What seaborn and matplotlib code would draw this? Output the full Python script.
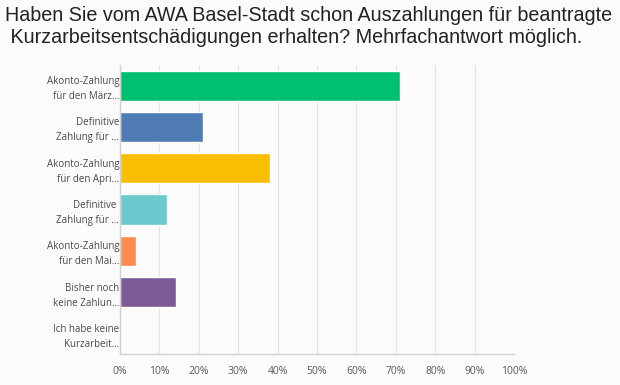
import matplotlib
matplotlib.use("Agg")
import matplotlib.pyplot as plt
import seaborn as sns
import pandas as pd

categories = [
    "Akonto-Zahlung\nfür den März…",
    "Definitive\nZahlung für …",
    "Akonto-Zahlung\nfür den Apri…",
    "Definitive \nZahlung für …",
    "Akonto-Zahlung\nfür den Mai…",
    "Bisher noch\nkeine Zahlun…",
    "Ich habe keine\nKurzarbeit…",
]
values = [71.0, 21.0, 38.0, 12.0, 4.0, 14.3, 0.0]
colors = ["#00bf6f", "#507cb6", "#f9be00", "#6bc8cd", "#ff8b4f", "#7d5a94", "#c4c4c4"]
xticks = [0, 10, 20, 30, 40, 50, 60, 70, 80, 90, 100]
xticklabels = [f"{t}%" for t in xticks]
title = "Haben Sie vom AWA Basel-Stadt schon Auszahlungen für beantragte\n Kurzarbeitsentschädigungen erhalten? Mehrfachantwort möglich."

sns.set_theme(style="white")
plt.rcParams["font.family"] = ["Open Sans", "DejaVu Sans"]

df = pd.DataFrame({"cat": categories, "val": values})

bg = "#fbfbfb"
fig = plt.figure(figsize=(6.2, 3.85), dpi=100, facecolor=bg)
ax = fig.add_axes([120/620, 1-354/385, 394/620, 289/385])
ax.set_facecolor(bg)

sns.barplot(data=df, x="val", y="cat", hue="cat", palette=colors, legend=False,
            orient="h", width=0.73, ax=ax, saturation=1)

ax.set_xlim(0, 100)
ax.set_xticks(xticks)
ax.set_xticklabels(xticklabels, fontsize=7.5, color="#5a5a5a")
ax.set_yticks(range(len(categories)))
ax.set_yticklabels(categories, fontsize=7.0, color="#4a4a4a", ha="right", linespacing=1.5)
ax.set_xlabel("")
ax.set_ylabel("")
ax.tick_params(axis="x", length=0, pad=9)
ax.tick_params(axis="y", length=0, pad=0.5)
ax.grid(axis="x", color="#e4e4e4", linewidth=0.8)
ax.set_axisbelow(True)
for s in ["top", "right"]:
    ax.spines[s].set_visible(False)
ax.spines["left"].set_color("#d0d0d0")
ax.spines["bottom"].set_color("#d0d0d0")
ax.spines["left"].set_linewidth(1)
ax.spines["bottom"].set_linewidth(1)

fig.text(0.008, 0.984, title, fontsize=14.2, color="#222222", va="top", ha="left",
         family=["Liberation Sans", "DejaVu Sans"], linespacing=1.2)

fig.savefig("out.png", dpi=100, facecolor=bg)
